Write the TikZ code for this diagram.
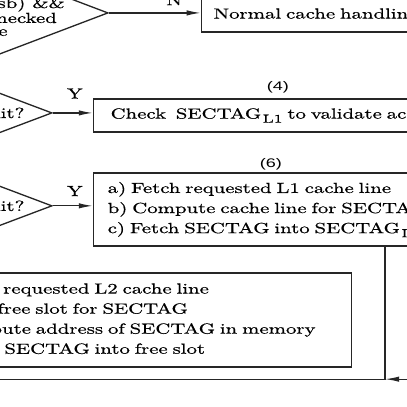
\documentclass[tikz,border=0pt]{standalone}
\usepackage{fontspec}
\setmainfont{Latin Modern Roman}[FakeStretch=1.42, FakeBold=0.6]
\newfontfamily\steplabfont{Liberation Sans}[FakeStretch=1.45]
\usepackage{tikz}
\usetikzlibrary{shapes.geometric, arrows.meta, positioning}
\definecolor{boxline}{rgb}{0.15,0.15,0.15}
\newcommand{\tagsub}[1]{\hspace{1pt}\raisebox{-2.8pt}{\fontsize{8}{8}\selectfont #1}}

\begin{document}
\begin{tikzpicture}[auto, font=\fontsize{10}{13.7}\selectfont,
		box/.style={draw=boxline, line width=0.9pt, rectangle, align=left, inner ysep=0pt},
		decision/.style={draw=boxline, line width=0.9pt, diamond, aspect=2.63, inner sep=0pt},
		flow/.style={draw=boxline, line width=0.9pt, -{Latex[length=3.4mm, width=1.3mm]}},
		link/.style={draw=boxline, line width=0.9pt},
		steplab/.style={font=\steplabfont\fontsize{8.5}{10}\selectfont, inner sep=0pt},
		answer/.style={inner sep=0pt}]
		\useasboundingbox (0,0) rectangle (9.768,-9.768);
		\clip (0,0) rectangle (9.768,-9.768);

		% Decisions
		\node [decision, minimum width=6.91cm, minimum height=2.63cm] (d1) at (-0.86,-0.31) {};
		\node [answer, anchor=base east] (d1a) at (1.56,-0.19) {(lsb) \&\&};
		\node [answer, anchor=base east] (d1b) at (1.37,-0.55) {checked};
		\node [answer, anchor=base east] (d1c) at (0.19,-0.86) {line};
		\node [decision, minimum width=2.9cm, minimum height=1.1cm] (d2) at (-0.2,-2.71) {L1 hit?};
		\node [decision, minimum width=2.9cm, minimum height=1.1cm] (d3) at (-0.2,-4.94) {L2 hit?};

		% Actions
		\node [box, anchor=west, inner xsep=0.29cm, text width=6cm, minimum height=0.82cm] (boxN) at (4.82,-0.36) {Normal cache handling};
		\node [box, anchor=west, inner xsep=0.41cm, text width=10cm, minimum height=0.79cm] (box4) at (2.23,-2.77) {Check\ \ SECTAG\tagsub{L1} to validate access};
		\node [box, anchor=west, inner xsep=0.34cm, text width=10cm, minimum height=1.75cm] (box6) at (2.23,-5.03) {a) Fetch requested L1 cache line\\ b) Compute cache line for SECTAG\\ c) Fetch SECTAG into SECTAG\tagsub{L1}};
		\node [box, anchor=east, inner xsep=0.29cm, text width=9.93cm, minimum height=2.26cm] (boxL2) at (8.45,-7.68) {a) Fetch requested L2 cache line\\ b) Find free slot for SECTAG\\ c) Compute address of SECTAG in memory\\ d) Fetch SECTAG into free slot};
		\node [steplab, above=1.2mm] (lbl4) at ([xshift=4.44cm]box4.north west) {(4)};
		\node [steplab, above=0.5mm] (lbl6) at ([xshift=4.27cm]box6.north west) {(6)};

		% Branches
		\draw [flow] (d1.east) -- node [answer, above=1.7mm, pos=0.71] (ansN) {N} (d1.east -| boxN.west);
		\draw [flow] (d2.east) -- node [answer, above=3.3mm, pos=0.55] (ansY1) {Y} (d2.east -| box4.west);
		\draw [flow] (d3.east) -- node [answer, above=2.2mm, pos=0.55] (ansY2) {Y} (d3.east -| box6.west);

		% Merge below
		\coordinate (merge) at (9.24,-9.10);
		\coordinate (outL) at (-0.5,-9.10);
		\coordinate (inR) at (10.5,-9.10);
		\draw [link] (box6.south -| merge) -- (merge) -- (outL);
		\draw [flow] (inR) -- (merge);

	\end{tikzpicture}
\end{document}
